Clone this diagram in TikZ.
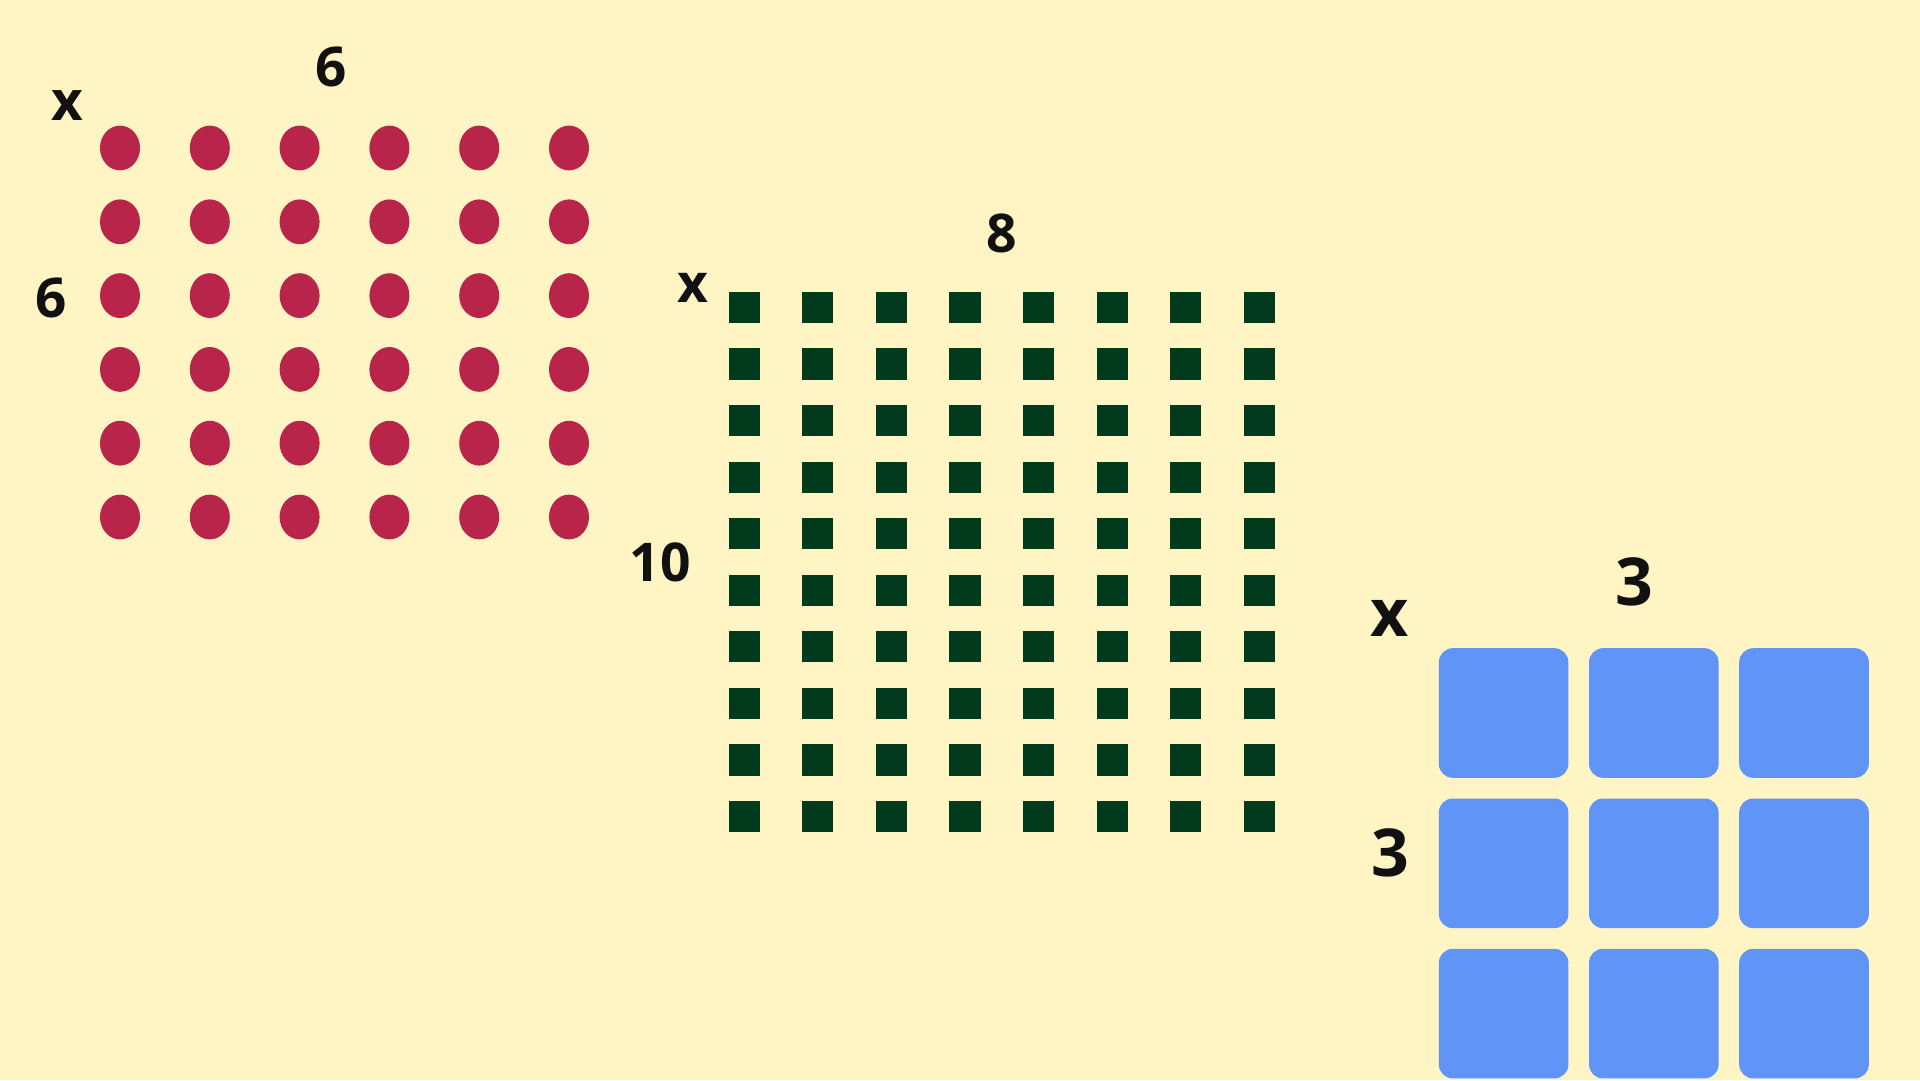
\documentclass[tikz,border=0pt]{standalone}
\usepackage{fontspec}
\setmainfont{Open Sans}
\usetikzlibrary{shapes.geometric}
\definecolor{paper}{HTML}{FFF4C4}
\definecolor{berry}{HTML}{B8244A}
\definecolor{forest}{HTML}{023A1D}
\definecolor{sky}{HTML}{6094F6}
\definecolor{ink}{HTML}{111111}
\tikzset{
  dot/.style={ellipse,fill=berry,minimum width=10mm,minimum height=11.2mm,inner sep=0pt},
  sq/.style={rectangle,fill=forest,minimum size=7.8mm,inner sep=0pt},
  tile/.style={rectangle,rounded corners=3.5mm,fill=sky,minimum size=32.4mm,inner sep=0pt},
  lbl/.style={inner sep=0pt,text=ink,font=\bfseries\fontsize{39}{42}\selectfont},
  lblb/.style={lbl,font=\bfseries\fontsize{38}{42}\selectfont},
  lblc/.style={lbl,font=\bfseries\fontsize{47}{50}\selectfont},
}

\begin{document}
\begin{tikzpicture}[x=0.25mm,y=-0.25mm]
  \fill[paper] (0,0) rectangle (1920,1080);
  \useasboundingbox (0,0) rectangle (1920,1080);

  % 6 x 6 dots
  \foreach \r in {0,...,5}
    \foreach \c in {0,...,5}
      \node[dot] (d-\r-\c) at (120+89.8*\c,148+73.8*\r) {};
  \node[lbl] (dotx) at (67,106) {x};
  \node[lbl] (dottop) at (331,67) {6};
  \node[lbl] (dotside) at (51,298) {6};

  % 8 x 10 squares
  \foreach \r in {0,...,9}
    \foreach \c in {0,...,7}
      \node[sq] (s-\r-\c) at (744.3+73.57*\c,307.4+56.57*\r) {};
  \node[lblb] (sqx) at (693,288) {x};
  \node[lblb] (sqtop) at (1002,233) {8};
  \node[lblb] (sqside) at (660,562) {10};

  % 3 x 3 tiles
  \foreach \r in {0,...,2}
    \foreach \c in {0,...,2}
      \node[tile] (t-\r-\c) at (1503.6+150.2*\c,713+150.3*\r) {};
  \node[lblc] (tilex) at (1390,618) {x};
  \node[lblc] (tiletop) at (1634,582) {3};
  \node[lblc] (tileside) at (1390,853) {3};
\end{tikzpicture}
\end{document}
